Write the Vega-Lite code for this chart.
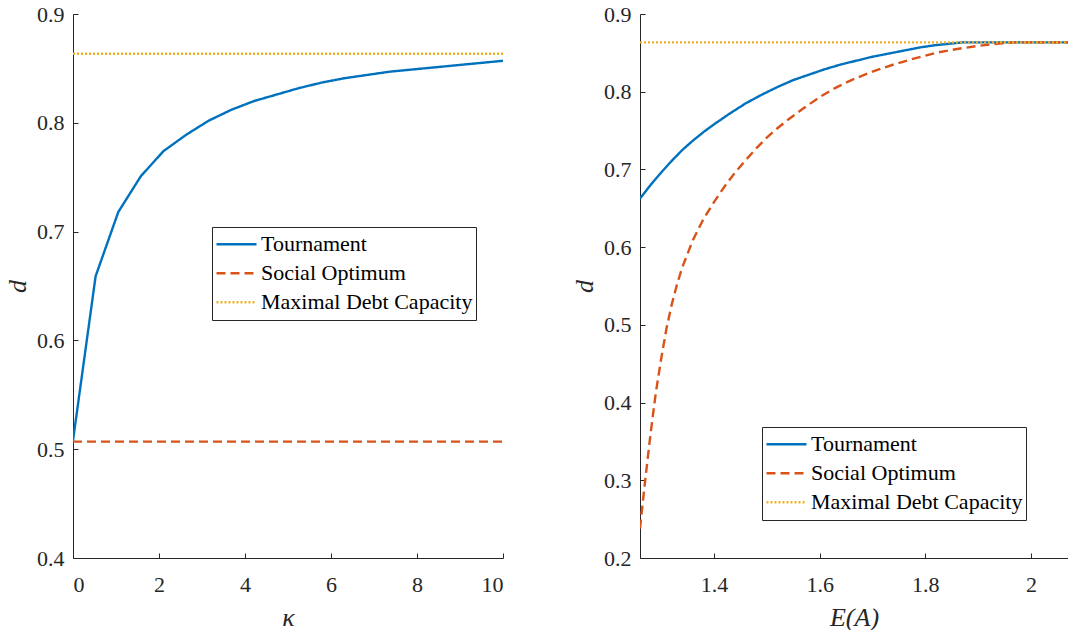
{
  "$schema": "https://vega.github.io/schema/vega-lite/v6.json",
  "background": "white",
  "padding": {"left": 4, "top": 3, "right": 0, "bottom": 0},
  "spacing": 137,
  "bounds": "flush",
  "config": {
    "font": "'Liberation Serif', 'DejaVu Serif', serif",
    "view": {"stroke": null},
    "axis": {
      "labelFont": "'Liberation Serif', 'DejaVu Serif', serif", "labelFontSize": 22, "labelColor": "#262626",
      "domainColor": "#262626", "tickColor": "#262626", "tickSize": -5, "grid": false,
      "titleFont": "'Liberation Serif', 'DejaVu Serif', serif", "titleFontStyle": "italic", "titleFontWeight": "normal",
      "titleFontSize": 26, "titleColor": "#262626", "domainWidth": 1, "tickWidth": 1
    },
    "axisX": {"labelPadding": 21, "titlePadding": 9},
    "axisY": {"labelPadding": 14, "titlePadding": 6},
    "legend": {
      "orient": "none", "title": null, "labelFont": "'Liberation Serif', 'DejaVu Serif', serif", "labelFontSize": 22,
      "labelColor": "#000000", "symbolType": "stroke", "symbolSize": 1600, "clipHeight": 28.5,
      "rowPadding": 0, "strokeColor": "#262626", "fillColor": "white", "padding": 3,
      "labelOffset": 3, "labelLimit": 400
    }
  },
  "datasets": {
    "left": [
      {"series": "Tournament", "x": 0, "d": 0.508},
      {"series": "Tournament", "x": 0.526, "d": 0.659},
      {"series": "Tournament", "x": 1.053, "d": 0.718},
      {"series": "Tournament", "x": 1.579, "d": 0.751},
      {"series": "Tournament", "x": 2.105, "d": 0.774},
      {"series": "Tournament", "x": 2.632, "d": 0.789},
      {"series": "Tournament", "x": 3.158, "d": 0.802},
      {"series": "Tournament", "x": 3.684, "d": 0.812},
      {"series": "Tournament", "x": 4.211, "d": 0.820},
      {"series": "Tournament", "x": 4.737, "d": 0.826},
      {"series": "Tournament", "x": 5.263, "d": 0.832},
      {"series": "Tournament", "x": 5.789, "d": 0.837},
      {"series": "Tournament", "x": 6.316, "d": 0.841},
      {"series": "Tournament", "x": 6.842, "d": 0.844},
      {"series": "Tournament", "x": 7.368, "d": 0.847},
      {"series": "Tournament", "x": 7.895, "d": 0.849},
      {"series": "Tournament", "x": 8.421, "d": 0.851},
      {"series": "Tournament", "x": 8.947, "d": 0.853},
      {"series": "Tournament", "x": 9.474, "d": 0.855},
      {"series": "Tournament", "x": 10, "d": 0.857},
      {"series": "Social Optimum", "x": 0, "d": 0.507},
      {"series": "Social Optimum", "x": 10, "d": 0.507},
      {"series": "Maximal Debt Capacity", "x": 0, "d": 0.8635},
      {"series": "Maximal Debt Capacity", "x": 10, "d": 0.8635}
    ],
    "right": [
      {"series": "Tournament", "x": 1.26, "d": 0.6625},
      {"series": "Tournament", "x": 1.28, "d": 0.680},
      {"series": "Tournament", "x": 1.30, "d": 0.696},
      {"series": "Tournament", "x": 1.32, "d": 0.711},
      {"series": "Tournament", "x": 1.34, "d": 0.725},
      {"series": "Tournament", "x": 1.36, "d": 0.737},
      {"series": "Tournament", "x": 1.38, "d": 0.748},
      {"series": "Tournament", "x": 1.40, "d": 0.758},
      {"series": "Tournament", "x": 1.43, "d": 0.772},
      {"series": "Tournament", "x": 1.46, "d": 0.785},
      {"series": "Tournament", "x": 1.49, "d": 0.796},
      {"series": "Tournament", "x": 1.52, "d": 0.806},
      {"series": "Tournament", "x": 1.55, "d": 0.815},
      {"series": "Tournament", "x": 1.58, "d": 0.822},
      {"series": "Tournament", "x": 1.61, "d": 0.829},
      {"series": "Tournament", "x": 1.64, "d": 0.835},
      {"series": "Tournament", "x": 1.67, "d": 0.840},
      {"series": "Tournament", "x": 1.70, "d": 0.845},
      {"series": "Tournament", "x": 1.73, "d": 0.849},
      {"series": "Tournament", "x": 1.76, "d": 0.853},
      {"series": "Tournament", "x": 1.79, "d": 0.857},
      {"series": "Tournament", "x": 1.82, "d": 0.860},
      {"series": "Tournament", "x": 1.85, "d": 0.862},
      {"series": "Tournament", "x": 1.87, "d": 0.8635},
      {"series": "Tournament", "x": 2.07, "d": 0.8635},
      {"series": "Social Optimum", "x": 1.26, "d": 0.238},
      {"series": "Social Optimum", "x": 1.265, "d": 0.270},
      {"series": "Social Optimum", "x": 1.27, "d": 0.301},
      {"series": "Social Optimum", "x": 1.28, "d": 0.360},
      {"series": "Social Optimum", "x": 1.29, "d": 0.413},
      {"series": "Social Optimum", "x": 1.30, "d": 0.456},
      {"series": "Social Optimum", "x": 1.31, "d": 0.495},
      {"series": "Social Optimum", "x": 1.32, "d": 0.526},
      {"series": "Social Optimum", "x": 1.33, "d": 0.552},
      {"series": "Social Optimum", "x": 1.34, "d": 0.574},
      {"series": "Social Optimum", "x": 1.36, "d": 0.609},
      {"series": "Social Optimum", "x": 1.38, "d": 0.636},
      {"series": "Social Optimum", "x": 1.40, "d": 0.658},
      {"series": "Social Optimum", "x": 1.42, "d": 0.678},
      {"series": "Social Optimum", "x": 1.44, "d": 0.696},
      {"series": "Social Optimum", "x": 1.46, "d": 0.712},
      {"series": "Social Optimum", "x": 1.48, "d": 0.727},
      {"series": "Social Optimum", "x": 1.50, "d": 0.741},
      {"series": "Social Optimum", "x": 1.52, "d": 0.753},
      {"series": "Social Optimum", "x": 1.54, "d": 0.764},
      {"series": "Social Optimum", "x": 1.57, "d": 0.779},
      {"series": "Social Optimum", "x": 1.60, "d": 0.793},
      {"series": "Social Optimum", "x": 1.63, "d": 0.805},
      {"series": "Social Optimum", "x": 1.66, "d": 0.815},
      {"series": "Social Optimum", "x": 1.70, "d": 0.826},
      {"series": "Social Optimum", "x": 1.74, "d": 0.835},
      {"series": "Social Optimum", "x": 1.78, "d": 0.843},
      {"series": "Social Optimum", "x": 1.82, "d": 0.850},
      {"series": "Social Optimum", "x": 1.86, "d": 0.855},
      {"series": "Social Optimum", "x": 1.90, "d": 0.859},
      {"series": "Social Optimum", "x": 1.94, "d": 0.862},
      {"series": "Social Optimum", "x": 1.97, "d": 0.8635},
      {"series": "Social Optimum", "x": 2.07, "d": 0.8635},
      {"series": "Maximal Debt Capacity", "x": 1.26, "d": 0.8635},
      {"series": "Maximal Debt Capacity", "x": 2.07, "d": 0.8635}
    ]
  },
  "resolve": {
    "scale": {"color": "independent", "strokeDash": "independent", "strokeWidth": "independent"},
    "legend": {"color": "independent", "strokeDash": "independent", "strokeWidth": "independent"}
  },
  "hconcat": [
    {
      "width": 430, "height": 544,
      "data": {"name": "left"},
      "mark": {"type": "line", "clip": true},
      "encoding": {
        "x": {"field": "x", "type": "quantitative", "title": "κ",
              "scale": {"domain": [0, 10], "nice": false, "zero": false},
              "axis": {"values": [0, 2, 4, 6, 8, 10], "format": "d"}},
        "y": {"field": "d", "type": "quantitative", "title": "d",
              "scale": {"domain": [0.4, 0.9], "nice": false, "zero": false},
              "axis": {"values": [0.4, 0.5, 0.6, 0.7, 0.8, 0.9], "format": ".1f"}},
        "color": {"field": "series", "type": "nominal",
                  "scale": {"domain": ["Tournament", "Social Optimum", "Maximal Debt Capacity"], "range": ["#0072BD", "#D95319", "#EDB120"]},
                  "legend": {"legendX": 139, "legendY": 213}},
        "strokeDash": {"field": "series", "type": "nominal",
                  "scale": {"domain": ["Tournament", "Social Optimum", "Maximal Debt Capacity"], "range": [[1, 0], [9, 5], [2, 2]]},
                  "legend": {"legendX": 139, "legendY": 213}},
        "strokeWidth": {"field": "series", "type": "nominal",
                  "scale": {"domain": ["Tournament", "Social Optimum", "Maximal Debt Capacity"], "range": [2.4, 2.4, 1.3]},
                  "legend": {"legendX": 139, "legendY": 213}}
      }
    },
    {
      "width": 428, "height": 544,
      "data": {"name": "right"},
      "mark": {"type": "line", "clip": true},
      "encoding": {
        "x": {"field": "x", "type": "quantitative", "title": "E(A)",
              "scale": {"domain": [1.26, 2.07], "nice": false, "zero": false},
              "axis": {"values": [1.4, 1.6, 1.8, 2], "format": "~g"}},
        "y": {"field": "d", "type": "quantitative", "title": "d",
              "scale": {"domain": [0.2, 0.9], "nice": false, "zero": false},
              "axis": {"values": [0.2, 0.3, 0.4, 0.5, 0.6, 0.7, 0.8, 0.9], "format": ".1f"}},
        "color": {"field": "series", "type": "nominal",
                  "scale": {"domain": ["Tournament", "Social Optimum", "Maximal Debt Capacity"], "range": ["#0072BD", "#D95319", "#EDB120"]},
                  "legend": {"legendX": 122, "legendY": 413}},
        "strokeDash": {"field": "series", "type": "nominal",
                  "scale": {"domain": ["Tournament", "Social Optimum", "Maximal Debt Capacity"], "range": [[1, 0], [9, 5], [2, 2]]},
                  "legend": {"legendX": 122, "legendY": 413}},
        "strokeWidth": {"field": "series", "type": "nominal",
                  "scale": {"domain": ["Tournament", "Social Optimum", "Maximal Debt Capacity"], "range": [2.4, 2.4, 1.3]},
                  "legend": {"legendX": 122, "legendY": 413}}
      }
    }
  ]
}
